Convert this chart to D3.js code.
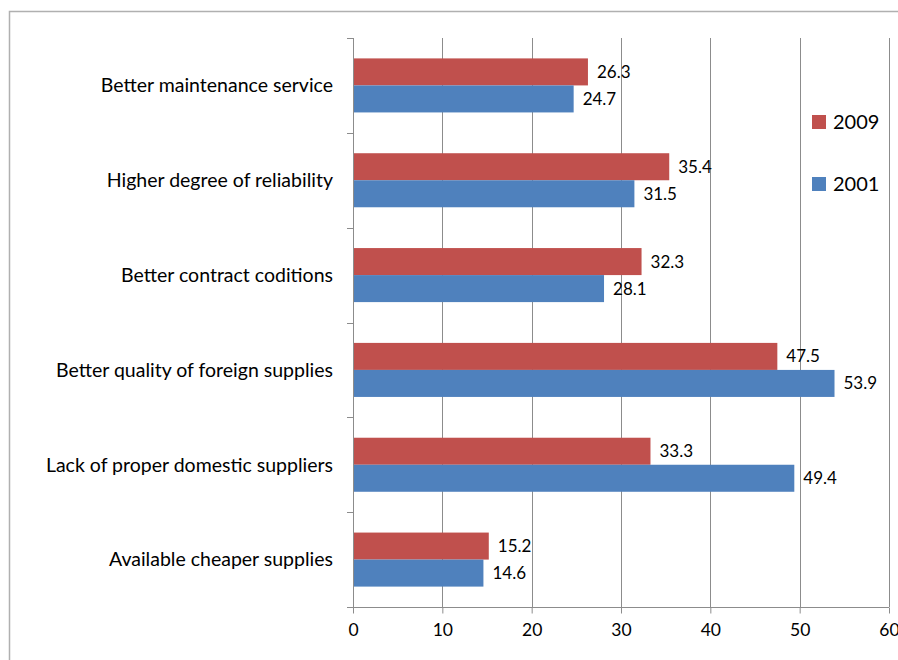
<!DOCTYPE html>
<html>
<head>
<meta charset="utf-8">
<script src="https://cdn.jsdelivr.net/npm/d3@7"></script>
<style>
  body { margin: 0; background: #fff; }
  svg { display: block; font-family: Lato, "Open Sans", sans-serif; }
  .grid line { stroke: #8c8c8c; stroke-width: 1; }
  .axis path, .axis line { stroke: #8c8c8c; }
</style>
</head>
<body>
<svg width="898" height="660"></svg>
<script>
let categories = [
    "Better maintenance service",
    "Higher degree of reliability",
    "Better contract coditions",
    "Better quality of foreign supplies",
    "Lack of proper domestic suppliers",
    "Available cheaper supplies"
];
let values2009 = [26.3, 35.4, 32.3, 47.5, 33.3, 15.2];
let values2001 = [24.7, 31.5, 28.1, 53.9, 49.4, 14.6];
let seriesNames = ["2009", "2001"];
let xTicks = [0, 10, 20, 30, 40, 50, 60];

let colors = {"2009": "#C0504D", "2001": "#4F81BD"};

let svg = d3.select("svg"),
    plot = {left: 353, right: 889, top: 38, bottom: 607};

// chart frame
svg.append("rect")
    .attr("x", 9.5)
    .attr("y", 11.5)
    .attr("width", 920)
    .attr("height", 700)
    .attr("fill", "none")
    .attr("stroke", "#b0b0b0")
    .attr("stroke-width", 1.5);

let x = d3.scaleLinear()
    .domain([0, 60])
    .range([plot.left, plot.right]);

let y = d3.scaleBand()
    .domain(categories)
    .range([plot.top, plot.bottom]);

let inner = d3.scaleBand()
    .domain(seriesNames)
    .range([0, y.bandwidth()])
    .paddingOuter(0.755);

// vertical gridlines
svg.append("g")
    .attr("class", "grid")
    .selectAll("line")
    .data(xTicks.slice(1))
    .join("line")
    .attr("x1", d => Math.round(x(d)) + 0.5)
    .attr("x2", d => Math.round(x(d)) + 0.5)
    .attr("y1", plot.top)
    .attr("y2", plot.bottom);

let rows = categories.map((c, i) => ({
    name: c,
    vals: [
        {key: "2009", value: values2009[i]},
        {key: "2001", value: values2001[i]}
    ]
}));

let groups = svg.append("g")
    .selectAll("g")
    .data(rows)
    .join("g")
    .attr("transform", d => "translate(0," + y(d.name) + ")");

groups.selectAll("rect")
    .data(d => d.vals)
    .join("rect")
    .attr("x", x(0))
    .attr("y", d => inner(d.key))
    .attr("width", d => x(d.value) - x(0))
    .attr("height", inner.bandwidth())
    .attr("fill", d => colors[d.key]);

groups.selectAll("text.val")
    .data(d => d.vals)
    .join("text")
    .attr("class", "val")
    .attr("x", d => x(d.value) + 9)
    .attr("y", d => inner(d.key) + inner.bandwidth() / 2)
    .attr("dy", "0.35em")
    .attr("font-size", 17)
    .attr("fill", "#000")
    .text(d => d.value.toFixed(1));

// category labels
svg.append("g")
    .selectAll("text")
    .data(categories)
    .join("text")
    .attr("x", plot.left - 20)
    .attr("y", d => y(d) + y.bandwidth() / 2)
    .attr("dy", "0.35em")
    .attr("text-anchor", "end")
    .attr("font-size", 19.5)
    .text(d => d);

// y axis line with ticks on the left
let yEdges = categories.map(c => y(c)).concat([plot.bottom]);
let yAxis = svg.append("g").attr("class", "axis");
yAxis.append("line")
    .attr("x1", plot.left + 0.5).attr("x2", plot.left + 0.5)
    .attr("y1", plot.top).attr("y2", plot.bottom);
yAxis.selectAll("line.tick")
    .data(yEdges)
    .join("line")
    .attr("class", "tick")
    .attr("x1", plot.left - 6).attr("x2", plot.left)
    .attr("y1", d => Math.round(d) + 0.5)
    .attr("y2", d => Math.round(d) + 0.5);

// x axis
let xAxis = d3.axisBottom(x)
    .tickValues(xTicks)
    .tickSize(6)
    .tickSizeOuter(0)
    .tickPadding(10);

svg.append("g")
    .attr("class", "axis")
    .attr("transform", "translate(0," + (plot.bottom + 0.5) + ")")
    .call(xAxis)
    .call(g => g.select(".domain").attr("d", "M" + (plot.left - 6) + ",0H" + plot.right))
    .call(g => g.selectAll("text")
        .attr("font-size", 17.5)
        .attr("font-family", "Lato, 'Open Sans', sans-serif")
        .attr("fill", "#000"));

// legend
let legend = svg.append("g")
    .selectAll("g")
    .data(seriesNames)
    .join("g")
    .attr("transform", (d, i) => "translate(812," + (115 + i * 62) + ")");

legend.append("rect")
    .attr("width", 14)
    .attr("height", 14)
    .attr("fill", d => colors[d]);

legend.append("text")
    .attr("x", 21)
    .attr("y", 7)
    .attr("dy", "0.35em")
    .attr("font-size", 20)
    .text(d => d);
</script>
</body>
</html>
